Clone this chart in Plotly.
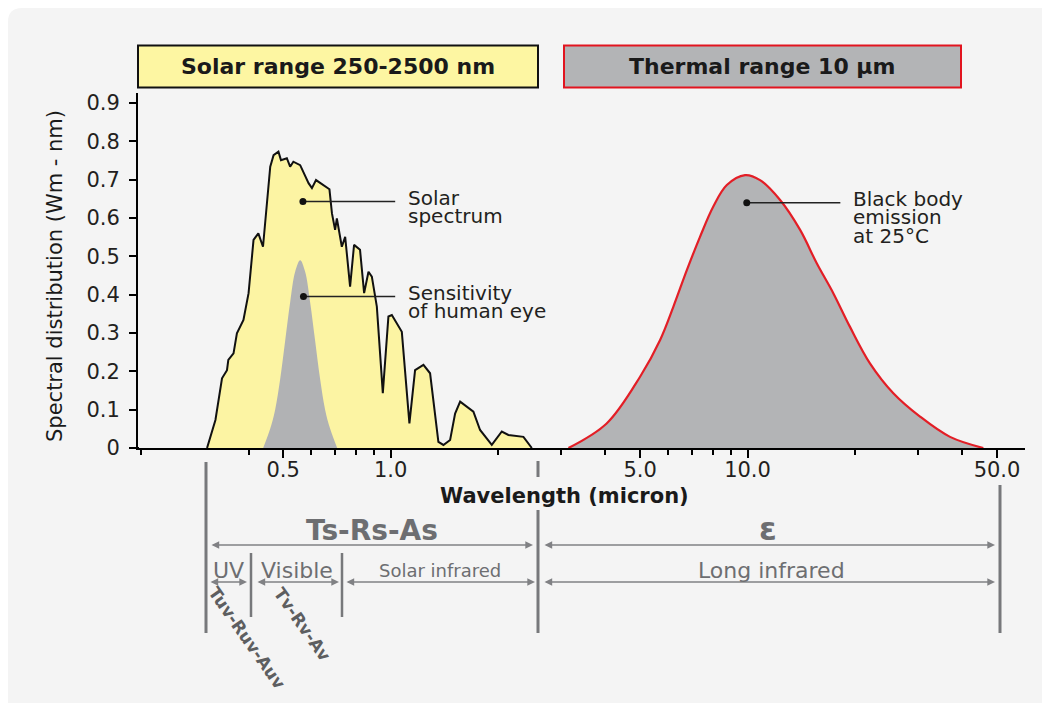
import numpy as np
import plotly.graph_objects as go

# ---------------- data ----------------
SOLAR_WL = [0.306, 0.323, 0.337, 0.348, 0.351, 0.363, 0.371, 0.387, 0.400, 0.413,
            0.426, 0.439, 0.460, 0.470, 0.485, 0.493, 0.512, 0.523, 0.534, 0.558,
            0.589, 0.602, 0.618, 0.674, 0.685, 0.699, 0.707, 0.730, 0.746, 0.770,
            0.790, 0.821, 0.843, 0.867, 0.886, 0.915, 0.951, 0.986, 1.008, 1.075,
            1.129, 1.171, 1.236, 1.290, 1.361, 1.406, 1.468, 1.516, 1.566, 1.706,
            1.781, 1.921, 2.049, 2.138, 2.356, 2.487]
SOLAR_VAL = [0.0, 0.073, 0.182, 0.203, 0.230, 0.247, 0.299, 0.334, 0.404, 0.543,
             0.560, 0.525, 0.734, 0.764, 0.773, 0.751, 0.756, 0.734, 0.747, 0.738,
             0.691, 0.678, 0.699, 0.675, 0.612, 0.569, 0.599, 0.525, 0.551, 0.421,
             0.530, 0.517, 0.404, 0.460, 0.447, 0.369, 0.143, 0.343, 0.347, 0.303,
             0.064, 0.203, 0.217, 0.195, 0.016, 0.008, 0.021, 0.090, 0.121, 0.095,
             0.047, 0.008, 0.043, 0.034, 0.029, 0.0]

EYE_WL = [0.4395, 0.4598, 0.4748, 0.4905, 0.5065, 0.5231, 0.5402, 0.5580,
          0.5762, 0.5950, 0.6145, 0.6346, 0.6554, 0.6771, 0.7084]
EYE_VAL = [0.0, 0.05, 0.10, 0.18, 0.28, 0.38, 0.46, 0.49,
           0.46, 0.38, 0.28, 0.18, 0.10, 0.05, 0.0]

BB_WL = [3.15, 4.03, 5.0, 5.69, 6.20, 6.76, 7.36, 8.02, 8.75, 9.84, 10.84,
         12.34, 14.04, 15.63, 17.39, 19.37, 22.03, 25.62, 30.43, 36.93, 45.78]
BB_VAL = [0.0, 0.064, 0.186, 0.282, 0.369, 0.464, 0.551, 0.630, 0.686, 0.712, 0.699,
          0.647, 0.569, 0.482, 0.404, 0.316, 0.221, 0.143, 0.082, 0.029, 0.0]

X_MAJOR = [0.5, 1.0, 5.0, 10.0, 50.0]
X_MAJOR_TEXT = ["0.5", "1.0", "5.0", "10.0", "50.0"]
X_MINOR = [0.2, 0.4, 0.6, 0.7, 0.8, 0.9, 2, 3, 4, 6, 7, 8, 9, 20, 30, 40]
Y_TICKS = [0, 0.1, 0.2, 0.3, 0.4, 0.5, 0.6, 0.7, 0.8, 0.9]
Y_TICK_TEXT = ["0", "0.1", "0.2", "0.3", "0.4", "0.5", "0.6", "0.7", "0.8", "0.9"]

CALLOUT_DOT_WL = [0.568, 0.570, 9.95]
CALLOUT_DOT_VAL = [0.643, 0.395, 0.640]
CALLOUT_END_WL = [1.03, 1.03, 18.2]
CALLOUT_TEXT = [["Solar", "spectrum"],
                ["Sensitivity", "of human eye"],
                ["Black body", "emission", "at 25°C"]]

BOX_TITLES = ["Solar range 250-2500 nm", "Thermal range 10 μm"]
BAND_ROW1 = ["Ts-Rs-As", "ε"]
BAND_ROW2 = ["UV", "Visible", "Solar infrared", "Long infrared"]
ROTATED_LABELS = ["Tuv-Ruv-Auv", "Tv-Rv-Av"]

# ---------------- layout geometry ----------------
# the page has an 8px body margin, so the figure starts at screen (8, 8)
W, H = 1042, 695
ML, MR, MT, MB = 130, 25, 85, 255
PW, PH = W - ML - MR, H - MT - MB      # 887 x 355
PLOT_LEFT_SCREEN, PLOT_BOTTOM_SCREEN = 138, 448
XR = [np.log10(0.196), np.log10(59.9)]
YR = [0, 0.9262]

FONT = "DejaVu Sans"
GRAY = "#6d6e71"
YELLOW = "#fcf4a3"
BBGRAY = "#b3b4b6"
RED = "#e31e26"


def px(x):
    """screen x (reference pixels) -> paper x"""
    return (x - PLOT_LEFT_SCREEN) / PW


def py(y):
    """screen y (reference pixels) -> paper y"""
    return (PLOT_BOTTOM_SCREEN - y) / PH


fig = go.Figure()

# solar spectrum
fig.add_trace(go.Scatter(x=SOLAR_WL, y=SOLAR_VAL, mode="lines", fill="tozeroy",
                         fillcolor=YELLOW, line=dict(color="#111111", width=2)))
# eye sensitivity
fig.add_trace(go.Scatter(x=EYE_WL, y=EYE_VAL, mode="lines", fill="tozeroy",
                         fillcolor="#b1b2b4", line=dict(color="rgba(0,0,0,0)", width=0,
                                                         shape="spline")))
# black body
fig.add_trace(go.Scatter(x=BB_WL, y=BB_VAL, mode="lines", fill="tozeroy",
                         fillcolor=BBGRAY, line=dict(color=RED, width=2.2, shape="spline",
                                                     smoothing=1.0)))

annotations = []
# callouts
for i in range(3):
    fig.add_trace(go.Scatter(x=[CALLOUT_DOT_WL[i], CALLOUT_END_WL[i]],
                             y=[CALLOUT_DOT_VAL[i], CALLOUT_DOT_VAL[i]],
                             mode="lines", line=dict(color="#222222", width=1.5)))
    fig.add_trace(go.Scatter(x=[CALLOUT_DOT_WL[i]], y=[CALLOUT_DOT_VAL[i]],
                             mode="markers", marker=dict(color="#111111", size=7)))
    for j, line in enumerate(CALLOUT_TEXT[i]):
        annotations.append(dict(x=np.log10(CALLOUT_END_WL[i]), y=CALLOUT_DOT_VAL[i],
                                xref="x", yref="y", text=line, showarrow=False,
                                xanchor="left", yanchor="middle", xshift=12,
                                yshift=4 - 18.5 * j, borderpad=0,
                                font=dict(family=FONT, size=20, color="#231f20")))

shapes = []
# background panel with rounded top-left corner
r = 14
shapes.append(dict(type="path", xref="paper", yref="paper", layer="below",
                   path=(f"M {px(8)},{py(703)} L {px(8)},{py(8 + r)} "
                         f"Q {px(8)},{py(8)} {px(8 + r)},{py(8)} "
                         f"L {px(1050)},{py(8)} L {px(1050)},{py(703)} Z"),
                   fillcolor="#f4f4f4", line=dict(width=0)))
# title boxes
shapes.append(dict(type="rect", xref="paper", yref="paper", layer="below",
                   x0=px(138), x1=px(538), y0=py(87.5), y1=py(45.5),
                   fillcolor="#fdf6a2", line=dict(color="#111111", width=2)))
shapes.append(dict(type="rect", xref="paper", yref="paper", layer="below",
                   x0=px(564), x1=px(961), y0=py(87.5), y1=py(45.5),
                   fillcolor="#b3b4b6", line=dict(color="#e2141f", width=2)))
annotations.append(dict(x=px(338), y=py(66.5), xref="paper", yref="paper",
                        text=BOX_TITLES[0], showarrow=False, xanchor="center",
                        yanchor="middle",
                        font=dict(family=FONT, size=22, color="#1a1a1a", weight="bold")))
annotations.append(dict(x=px(762), y=py(66.5), xref="paper", yref="paper",
                        text=BOX_TITLES[1], showarrow=False, xanchor="center",
                        yanchor="middle",
                        font=dict(family=FONT, size=22, color="#1a1a1a", weight="bold")))

# axis titles
annotations.append(dict(x=px(564), y=py(496), xref="paper", yref="paper",
                        text="Wavelength (micron)", showarrow=False, xanchor="center",
                        yanchor="middle", borderpad=0,
                        font=dict(family=FONT, size=21, color="#1a1a1a", weight="bold")))
annotations.append(dict(x=px(55), y=py(276), xref="paper", yref="paper",
                        text="Spectral distribution (Wm - nm)", showarrow=False,
                        xanchor="center", yanchor="middle", textangle=-90,
                        font=dict(family=FONT, size=21, color="#1a1a1a")))

# small extension of the x axis line to the left of the y axis
shapes.append(dict(type="line", xref="paper", yref="paper",
                   x0=px(133), x1=px(139), y0=0, y1=0,
                   line=dict(color="black", width=2)))

# vertical range separators below the axis
LINE_GRAY = "#77787b"
for (x, y0, y1, w) in [(206, 462, 633, 3), (538, 461, 477, 3), (538, 510, 633, 3),
                       (1000, 485, 633, 3), (251, 553, 617, 2.5), (342, 553, 617, 2.5)]:
    shapes.append(dict(type="line", xref="paper", yref="paper",
                       x0=px(x), x1=px(x), y0=py(y0), y1=py(y1),
                       line=dict(color=LINE_GRAY, width=w)))

# double arrows
ARROW_GRAY = "#808184"
for (xa, xb, y) in [(210, 533, 545), (543, 995, 545), (209, 247, 582), (256, 339, 582),
                    (345, 535, 582), (543, 995, 582)]:
    annotations.append(dict(x=px(xb), y=py(y), xref="paper", yref="paper",
                            ax=xa - xb, ay=0, axref="pixel", ayref="pixel",
                            text="", showarrow=True, arrowside="end+start",
                            arrowhead=2, arrowsize=1.1, arrowwidth=1.4,
                            arrowcolor=ARROW_GRAY, standoff=0, startstandoff=0))

# band labels
annotations.append(dict(x=px(372), y=py(530), xref="paper", yref="paper",
                        text=BAND_ROW1[0], showarrow=False, xanchor="center",
                        yanchor="middle",
                        font=dict(family=FONT, size=28, color=GRAY, weight="bold")))
annotations.append(dict(x=px(768), y=py(529), xref="paper", yref="paper",
                        text=BAND_ROW1[1], showarrow=False, xanchor="center",
                        yanchor="middle",
                        font=dict(family=FONT, size=32, color=GRAY, weight="bold")))
for (txt, x, size) in [(BAND_ROW2[0], 228, 22), (BAND_ROW2[1], 297, 22),
                       (BAND_ROW2[2], 440, 18), (BAND_ROW2[3], 771, 22)]:
    annotations.append(dict(x=px(x), y=py(570), xref="paper", yref="paper",
                            text=txt, showarrow=False, xanchor="center",
                            yanchor="middle",
                            font=dict(family=FONT, size=size, color=GRAY)))
for (txt, x, y) in [(ROTATED_LABELS[0], 247, 638), (ROTATED_LABELS[1], 302, 624)]:
    annotations.append(dict(x=px(x), y=py(y), xref="paper", yref="paper",
                            text=txt, showarrow=False, xanchor="center",
                            yanchor="middle", textangle=55,
                            font=dict(family=FONT, size=17, color="#5d5e60",
                                      weight="bold")))

fig.update_layout(
    width=W, height=H, autosize=False,
    margin=dict(l=ML, r=MR, t=MT, b=MB, pad=0),
    paper_bgcolor="white", plot_bgcolor="rgba(0,0,0,0)",
    showlegend=False, hovermode=False,
    font=dict(family=FONT, color="#231f20"),
    xaxis=dict(type="log", range=XR, showline=True, linecolor="black", linewidth=2,
               ticks="outside", ticklen=8, tickwidth=2, tickcolor="black",
               tickmode="array", tickvals=X_MAJOR, ticktext=X_MAJOR_TEXT,
               tickfont=dict(family=FONT, size=21, color="#231f20"),
               showgrid=False, zeroline=False, ticklabelstandoff=-6,
               minor=dict(tickmode="array", tickvals=X_MINOR, ticks="outside",
                          ticklen=5, tickwidth=1.5, tickcolor="black", showgrid=False)),
    yaxis=dict(range=YR, showline=True, linecolor="black", linewidth=2,
               ticks="outside", ticklen=7, tickwidth=1.5, tickcolor="black",
               tickmode="array", tickvals=Y_TICKS, ticktext=Y_TICK_TEXT,
               tickfont=dict(family=FONT, size=21, color="#231f20"),
               showgrid=False, zeroline=False, ticklabelstandoff=5),
    shapes=shapes,
    annotations=annotations,
)

fig.write_html("out.html")
